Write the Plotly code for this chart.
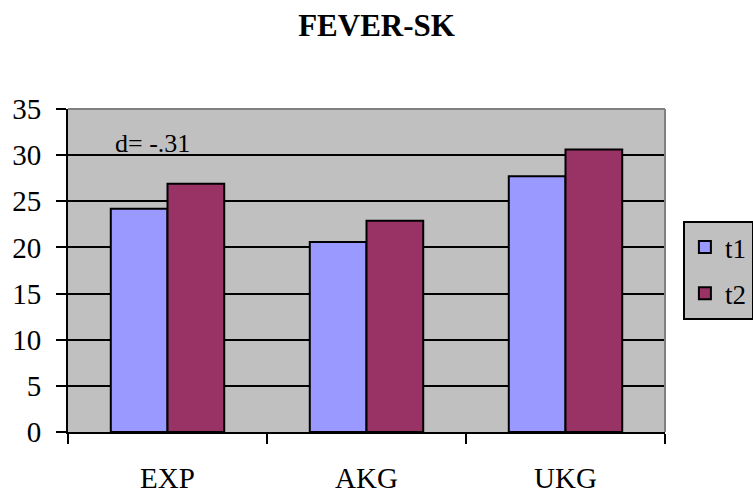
import plotly.graph_objects as go

categories = ["EXP", "AKG", "UKG"]
t1_values = [24.2, 20.6, 27.7]
t2_values = [26.9, 22.9, 30.6]
series_names = ["t1", "t2"]
y_ticks = [0, 5, 10, 15, 20, 25, 30, 35]
title_text = "FEVER-SK"
note_text = "d= -.31"

FONT = "Times New Roman, Liberation Serif, serif"

fig = go.Figure()
fig.add_trace(go.Bar(x=categories, y=t1_values, name=series_names[0], legendgroup="a",
                     marker=dict(color="#9999FF", line=dict(color="black", width=2))))
fig.add_trace(go.Bar(x=categories, y=t2_values, name=series_names[1], legendgroup="b",
                     marker=dict(color="#993366", line=dict(color="black", width=2))))

fig.update_layout(
    width=753, height=494,
    margin=dict(l=68, r=88, t=109, b=62, autoexpand=False),
    paper_bgcolor="white", plot_bgcolor="#C0C0C0",
    barmode="group", bargap=0.43, bargroupgap=0,
    font=dict(family=FONT, size=28, color="black"),
    title=dict(text="<b>" + title_text + "</b>", x=0.5, xanchor="center",
               y=1 - 25 / 494, yanchor="middle", yref="container",
               font=dict(family=FONT, size=31, color="black")),
    showlegend=True,
    legend=dict(x=1.03, xanchor="left", y=0.5, yanchor="middle",
                bgcolor="#C0C0C0", bordercolor="black", borderwidth=2,
                font=dict(family=FONT, size=27), tracegroupgap=8),
    xaxis=dict(showline=True, linecolor="black", linewidth=2,
               ticks="outside", ticklen=10, tickwidth=2, tickcolor="black",
               tickson="boundaries", ticklabelstandoff=19,
               showgrid=False, zeroline=False,
               tickfont=dict(family=FONT, size=29)),
    yaxis=dict(range=[0, 35], tickvals=y_ticks, showline=True, linecolor="black", linewidth=2,
               ticks="outside", ticklen=10, tickwidth=2, tickcolor="black",
               showgrid=True, gridcolor="black", gridwidth=2, zeroline=False,
               tickfont=dict(family=FONT, size=29), ticklabelstandoff=9),
)

# gray frame on top and right edges of plot area
fig.add_shape(type="line", xref="paper", yref="paper", x0=0, x1=1, y0=1, y1=1,
              line=dict(color="#808080", width=2), layer="above")
fig.add_shape(type="line", xref="paper", yref="paper", x0=1, x1=1, y0=0, y1=1,
              line=dict(color="#808080", width=2), layer="above")

fig.add_annotation(text=note_text, xref="paper", yref="y", x=0.141, y=31.3,
                   showarrow=False, font=dict(family=FONT, size=26, color="black"),
                   xanchor="center", yanchor="middle")

fig.write_html("out.html")
